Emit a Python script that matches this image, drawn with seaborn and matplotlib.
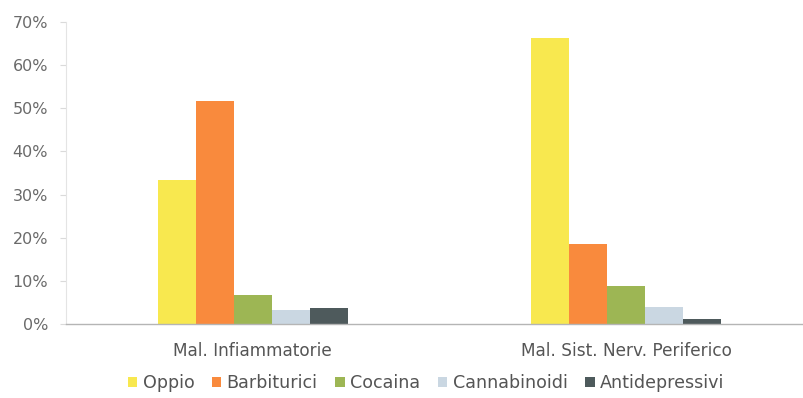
import matplotlib
matplotlib.use("Agg")
import matplotlib.pyplot as plt
import seaborn as sns
import pandas as pd
from matplotlib.ticker import PercentFormatter
from matplotlib.patches import Patch

categories = ["Mal. Infiammatorie", "Mal. Sist. Nerv. Periferico"]
substances = ["Oppio", "Barbiturici", "Cocaina", "Cannabinoidi", "Antidepressivi"]
oppio = [33.4, 66.3]
barbiturici = [51.8, 18.6]
cocaina = [6.7, 8.9]
cannabinoidi = [3.2, 3.9]
antidepressivi = [3.7, 1.1]
colors = ["#F8E84F", "#F98A3D", "#9DB654", "#CAD7E2", "#4E5A5C"]

series = [oppio, barbiturici, cocaina, cannabinoidi, antidepressivi]
rows = []
for name, vals in zip(substances, series):
    for cat, v in zip(categories, vals):
        rows.append({"categoria": cat, "sostanza": name, "valore": v})
df = pd.DataFrame(rows)

sns.set_style("white")
plt.rcParams["font.family"] = ["DejaVu Sans"]

fig = plt.figure(figsize=(8.04, 3.98), dpi=100)
ax = fig.add_axes([66 / 804, 74 / 398, 747 / 804, 302 / 398])

sns.barplot(data=df, x="categoria", y="valore", hue="sostanza",
            hue_order=substances, order=categories, palette=colors,
            width=0.51, gap=0, saturation=1, ax=ax, legend=False,
            edgecolor="none", linewidth=0)

ax.set_xlim(-0.5, 1.5)
ax.set_ylim(0, 70)
ax.set_yticks(range(0, 71, 10))
ax.yaxis.set_major_formatter(PercentFormatter(decimals=0))
ax.set_xlabel("")
ax.set_ylabel("")

for side in ["top", "right"]:
    ax.spines[side].set_visible(False)
ax.spines["left"].set_color("#E4E4E4")
ax.spines["left"].set_linewidth(0.8)
ax.spines["bottom"].set_color("#B5B5B5")
ax.spines["bottom"].set_linewidth(1.0)

ax.tick_params(axis="y", length=4, width=0.8, color="#DADADA",
               labelsize=11.5, labelcolor="#6A6A6A", pad=9, left=True)
ax.tick_params(axis="x", length=0, labelsize=12.2, labelcolor="#555555", pad=13)

handles = [Patch(facecolor=c, edgecolor="none", label=s)
           for c, s in zip(colors, substances)]
fig.legend(handles=handles, loc="center", bbox_to_anchor=(426 / 804, 1 - 383 / 398),
           ncol=5, frameon=False, fontsize=12.6, handlelength=0.55,
           handleheight=0.5, handletextpad=0.3, columnspacing=1.0,
           labelcolor="#555555")

fig.savefig("out.png", dpi=100)
